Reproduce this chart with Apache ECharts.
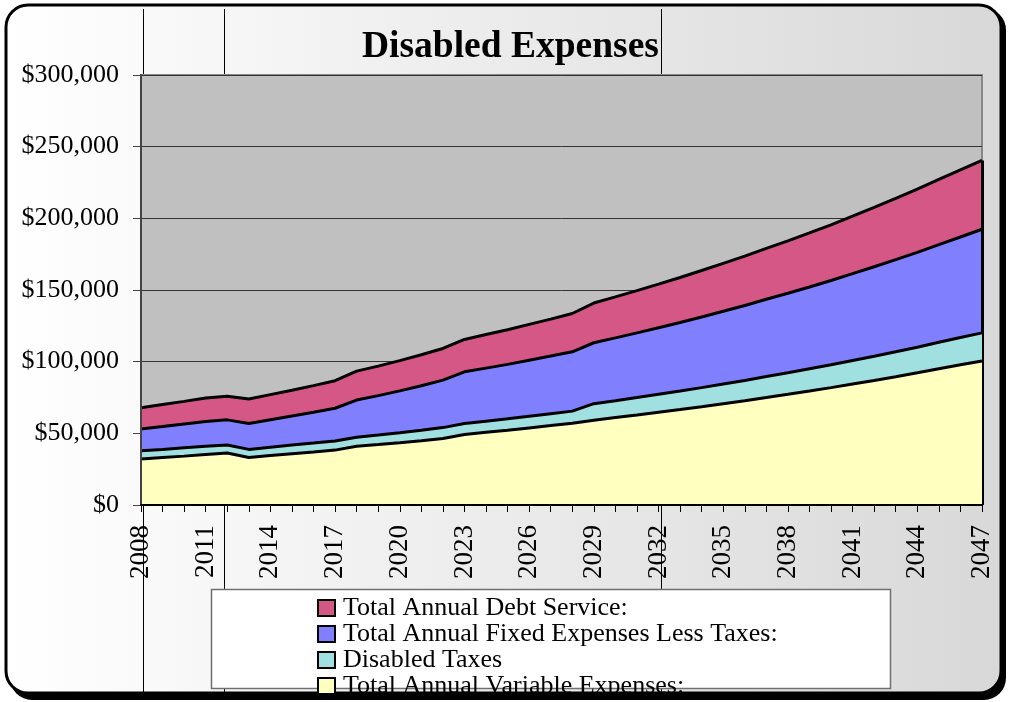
<!DOCTYPE html>
<html>
<head>
<meta charset="utf-8">
<title>Disabled Expenses</title>
<script src="https://cdn.jsdelivr.net/npm/echarts@6/dist/echarts.min.js"></script>
<style>
  html, body { margin: 0; padding: 0; background: #ffffff; }
  #chart { width: 1010px; height: 702px; }
</style>
</head>
<body>
<div id="chart"></div>
<script>
// Projection years
const years = ['2008','2009','2010','2011','2012','2013','2014','2015','2016','2017',
               '2018','2019','2020','2021','2022','2023','2024','2025','2026','2027',
               '2028','2029','2030','2031','2032','2033','2034','2035','2036','2037',
               '2038','2039','2040','2041','2042','2043','2044','2045','2046','2047'];

// Annual amounts in dollars, bottom of the stack first
const variableExpenses = [32100,33100,34100,35200,36300,33200,34500,35800,37000,38300,
                          41000,42200,43500,44900,46400,49200,50700,52200,53800,55400,
                          57100,59200,61000,62800,64700,66600,68600,70700,72800,75000,
                          77200,79500,81900,84400,86900,89500,92200,95000,97800,100500];
const disabledTaxes = [5700,5700,5800,5800,5600,5600,5800,6000,6200,6400,
                       6300,6600,6900,7200,7600,7600,7800,7900,8100,8300,
                       8400,11500,11800,12200,12600,12900,13300,13700,14100,14600,
                       15000,15500,15900,16400,16900,17400,17900,18500,19000,19600];
const fixedLessTaxes = [15200,15900,16600,17300,17500,18100,19200,20300,21500,22800,
                        25900,27500,29200,31100,33100,36100,37000,38000,39100,40200,
                        41400,42500,43800,45100,46400,47800,49300,50800,52300,53900,
                        55500,57100,58800,60600,62400,64300,66200,68200,70200,72300];
const debtService = [14900,15400,15800,16300,16500,17000,17500,18000,18600,19200,
                     20200,20600,21100,21600,22100,22600,23400,24200,25000,25800,
                     26700,27700,28600,29500,30400,31400,32400,33400,34400,35500,
                     36600,37700,38900,40100,41400,42700,44000,45400,46800,48000];

const seriesNames = ['Total Annual Variable Expenses:', 'Disabled Taxes',
                     'Total Annual Fixed Expenses Less Taxes:', 'Total Annual Debt Service:'];
const seriesColors = ['#ffffc0', '#a0e0e0', '#8080ff', '#d55786'];
const seriesValues = [variableExpenses, disabledTaxes, fixedLessTaxes, debtService];

const SERIF = '"Liberation Serif","Times New Roman",Times,serif';

// Stack height in the final year, for the closing edge of the area block
const last = years.length - 1;
const finalTotal = seriesValues.reduce((s, arr) => s + arr[last], 0);

const series = seriesValues.map((vals, i) => {
  const s = {
    name: seriesNames[i],
    type: 'line',
    stack: 'total',
    data: vals,
    symbol: 'none',
    z: 6 - i,
    color: seriesColors[i],
    lineStyle: { color: '#000000', width: 3 },
    areaStyle: { color: seriesColors[i], opacity: 1 },
    emphasis: { disabled: true }
  };
  if (i === seriesValues.length - 1) {
    s.markLine = {
      silent: true,
      symbol: 'none',
      label: { show: false },
      lineStyle: { color: '#000000', width: 3, type: 'solid' },
      data: [[{ xAxis: years[last], yAxis: 0 }, { xAxis: years[last], yAxis: finalTotal }]]
    };
  }
  return s;
});

const chart = echarts.init(document.getElementById('chart'), null, { renderer: 'canvas' });

chart.setOption({
  animation: false,
  graphic: [
    // drop shadow and rounded frame
    { type: 'rect', z: -30, silent: true,
      shape: { x: 10, y: 8, width: 996, height: 692, r: 22 },
      style: { fill: '#000000' } },
    { type: 'rect', z: -29, silent: true,
      shape: { x: 6, y: 5, width: 995, height: 688, r: 22 },
      style: {
        fill: new echarts.graphic.LinearGradient(0, 0, 1, 0, [
          { offset: 0, color: '#ffffff' },
          { offset: 1, color: '#d8d8d8' }
        ]),
        stroke: '#000000', lineWidth: 3
      } },
    // vertical rules behind the plot
    { type: 'line', z: -28, silent: true,
      shape: { x1: 143.5, y1: 9, x2: 143.5, y2: 692 }, style: { stroke: '#000', lineWidth: 1 } },
    { type: 'line', z: -28, silent: true,
      shape: { x1: 224.5, y1: 9, x2: 224.5, y2: 692 }, style: { stroke: '#000', lineWidth: 1 } },
    { type: 'line', z: -28, silent: true,
      shape: { x1: 661.5, y1: 9, x2: 661.5, y2: 692 }, style: { stroke: '#000', lineWidth: 1 } },
    // legend box
    { type: 'rect', z: -27, silent: true,
      shape: { x: 211.5, y: 589.5, width: 679, height: 99 },
      style: { fill: '#ffffff', stroke: '#707070', lineWidth: 1.5 } }
  ],
  title: {
    text: 'Disabled Expenses',
    left: 362,
    top: 28,
    padding: 0,
    textStyle: { fontFamily: SERIF, fontSize: 37.5, fontWeight: 'bold', color: '#000000' }
  },
  legend: {
    orient: 'vertical',
    left: 317,
    top: 595,
    padding: 0,
    itemGap: 0,
    itemWidth: 17,
    itemHeight: 16,
    icon: 'rect',
    selectedMode: false,
    data: seriesNames.slice().reverse(),
    itemStyle: { borderColor: '#000000', borderWidth: 2 },
    textStyle: { fontFamily: SERIF, fontSize: 26, lineHeight: 24, color: '#000000', padding: [0, 0, 0, 3] }
  },
  grid: {
    left: 141, right: 28, top: 75, bottom: 197,
    show: true,
    backgroundColor: '#c0c0c0',
    borderColor: '#888888',
    borderWidth: 2
  },
  xAxis: {
    type: 'category',
    data: years,
    boundaryGap: false,
    z: 10,
    axisLine: { lineStyle: { color: '#000000', width: 2 } },
    axisTick: { interval: 0, length: 7, lineStyle: { color: '#000000', width: 1 } },
    axisLabel: {
      interval: 2, rotate: 90, margin: 20,
      fontFamily: SERIF, fontSize: 27, color: '#000000'
    },
    splitLine: { show: false }
  },
  yAxis: [
    {
      type: 'value', min: 0, max: 300000, interval: 50000,
      axisLine: { show: true, lineStyle: { color: '#555555', width: 2 } },
      axisTick: { show: true, length: 8, lineStyle: { color: '#444444', width: 1 } },
      axisLabel: {
        margin: 22, fontFamily: SERIF, fontSize: 26, color: '#000000',
        formatter: v => '$' + v.toLocaleString('en-US')
      },
      splitLine: { show: true, lineStyle: { color: '#333333', width: 1 } }
    },
    {
      type: 'value', min: 0, max: 300000, interval: 50000,
      position: 'left', offset: 0, z: 10,
      axisLine: { show: true, onZero: false, lineStyle: { color: '#444444', width: 2 } },
      axisTick: { show: false },
      axisLabel: { show: false },
      splitLine: { show: false }
    }
  ],
  series: series
});
</script>
</body>
</html>
